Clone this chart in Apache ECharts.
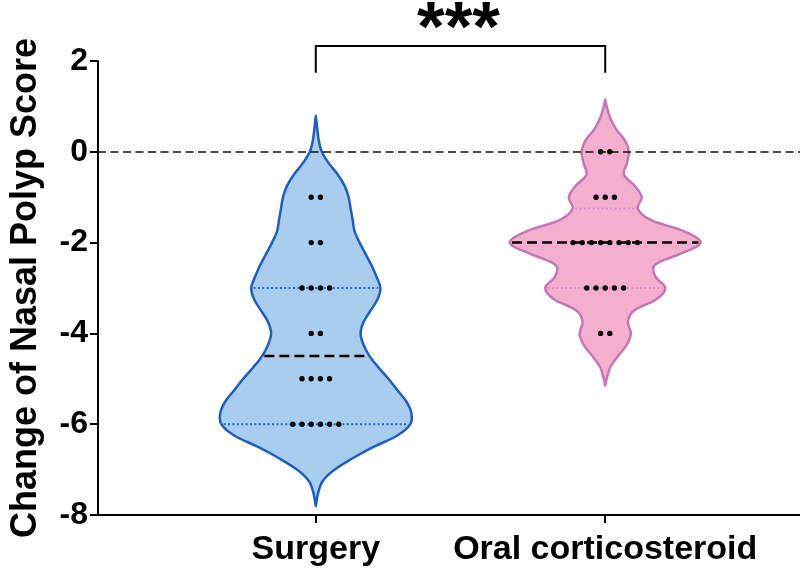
<!DOCTYPE html>
<html><head><meta charset="utf-8">
<script src="https://cdn.jsdelivr.net/npm/echarts@6/dist/echarts.min.js"></script>
<style>html,body{margin:0;padding:0;background:#fff}#c{width:800px;height:572px}</style>
</head><body><div id="c"></div>
<script>
// ---------- data ----------
const categories = ['Surgery', 'Oral corticosteroid'];
const yTicks = [-8, -6, -4, -2, 0, 2];
const yAxisTitle = 'Change of Nasal Polyp Score';
const significance = '***';

// individual patient scores (dots)
const surgeryScores = [-1,-1,-2,-2,-3,-3,-3,-3,-4,-4,-5,-5,-5,-5,-6,-6,-6,-6,-6,-6];
const oralScores    = [0,0,-1,-1,-1,-2,-2,-2,-2,-2,-2,-2,-2,-3,-3,-3,-3,-3,-4,-4];

// violin outline: score level and relative density
const surgeryViolinY = [0.79,0.5,0.25,0,-0.25,-0.5,-0.75,-1,-1.25,-1.5,-1.75,-2,-2.25,-2.5,-2.75,-3,-3.25,-3.5,-3.75,-4,-4.25,-4.5,-4.75,-5,-5.25,-5.5,-5.75,-6,-6.25,-6.5,-6.75,-7,-7.25,-7.5,-7.8];
const surgeryViolinD = [0,1.5,3,6,13,22,29,33,35,37,39,44,50,56,61,65,62,55,48,45,48,54,63,73,82,91,96,95,82,58,37,19,7,2.5,0];
const oralViolinY = [1.15,1.0,0.75,0.5,0.25,0,-0.25,-0.5,-0.75,-1,-1.25,-1.5,-1.75,-2,-2.25,-2.5,-2.75,-3,-3.25,-3.5,-3.75,-4,-4.25,-4.5,-4.75,-5,-5.15];
const oralViolinD = [0,1.5,5,11,20,24,22,19,30,37,33,46,80,97,76,50,51,61,52,29,23,26,22,13,5,1.5,0];

// ---------- presentation ----------
const FONT = "'Liberation Sans', Arial, Helvetica, sans-serif";
const HALF = 0.33;      // max violin half-width in x-axis units
const DOT_GAP = 9.2;    // px between dots
const groups = [
  {x: 1, scores: surgeryScores, vy: surgeryViolinY, vd: surgeryViolinD,
   fill: '#a9cdee', stroke: '#1f5fb8', quart: '#2b63c4'},
  {x: 2, scores: oralScores, vy: oralViolinY, vd: oralViolinD,
   fill: '#f3afcd', stroke: '#c378b5', quart: '#d690c8'}
];

function pct(vals, p) {
  const s = vals.slice().sort((a, b) => a - b);
  const r = (s.length + 1) * p;
  const lo = Math.floor(r), hi = Math.ceil(r);
  const a = s[Math.max(0, lo - 1)], b = s[Math.min(s.length - 1, hi - 1)];
  return a + (b - a) * (r - lo);
}
function widthAt(g, y) {
  const m = Math.max(...g.vd);
  for (let k = 0; k < g.vy.length - 1; k++) {
    const y0 = g.vy[k], y1 = g.vy[k + 1];
    if (y <= y0 && y >= y1) {
      const t = (y0 - y) / (y0 - y1);
      return (g.vd[k] + (g.vd[k + 1] - g.vd[k]) * t) / m * HALF;
    }
  }
  return 0;
}
groups.forEach(g => {
  g.q1 = pct(g.scores, 0.25); g.med = pct(g.scores, 0.5); g.q3 = pct(g.scores, 0.75);
});

// dots data
const dotData = [];
groups.forEach(g => {
  const counts = {};
  g.scores.forEach(v => counts[v] = (counts[v] || 0) + 1);
  Object.keys(counts).forEach(k => {
    const n = counts[k];
    for (let i = 0; i < n; i++) dotData.push([g.x, Number(k), i - (n - 1) / 2]);
  });
});

const chart = echarts.init(document.getElementById('c'), null, {renderer: 'canvas'});
chart.setOption({
  animation: false,
  backgroundColor: '#fff',
  grid: {left: 94, right: 0, top: 61, bottom: 57},
  xAxis: {
    type: 'value', min: 0.2474, max: 2.673,
    axisLine: {show: true, onZero: false, lineStyle: {color: '#000', width: 2}},
    axisTick: {show: true, customValues: [1, 2], length: 8, lineStyle: {color: '#000', width: 2}},
    axisLabel: {show: true, customValues: [1, 2], margin: 18,
      formatter: v => categories[Math.round(v) - 1],
      color: '#000', fontFamily: FONT, fontWeight: 'bold', fontSize: 34},
    splitLine: {show: false}
  },
  yAxis: {
    type: 'value', min: yTicks[0], max: yTicks[yTicks.length - 1], interval: 2,
    name: yAxisTitle, nameLocation: 'middle', nameGap: 54, nameRotate: 90,
    nameTextStyle: {color: '#000', fontFamily: FONT, fontWeight: 'bold', fontSize: 36},
    axisLine: {show: true, lineStyle: {color: '#000', width: 2}},
    axisTick: {show: true, length: 8, lineStyle: {color: '#000', width: 2}},
    axisLabel: {color: '#000', fontFamily: FONT, fontWeight: 'bold', fontSize: 32, margin: 10},
    splitLine: {show: false}
  },
  series: [
    { // zero reference line
      type: 'line', data: [], z: 1,
      markLine: {silent: true, symbol: 'none', label: {show: false},
        lineStyle: {color: '#111', width: 1.5, type: [8, 4.5]},
        data: [{yAxis: 0}]}
    },
    { // violins
      type: 'custom', z: 2, clip: false,
      data: groups.map((g, i) => [g.x, i]),
      renderItem: (params, api) => {
        const g = groups[api.value(1)];
        const m = Math.max(...g.vd);
        const right = [], left = [];
        g.vy.forEach((y, k) => {
          const w = g.vd[k] / m * HALF;
          right.push(api.coord([g.x + w, y]));
          left.push(api.coord([g.x - w, y]));
        });
        const pts = right.concat(left.reverse());
        const children = [{type: 'polygon', shape: {points: pts, smooth: 0.35},
          style: {fill: g.fill, stroke: g.stroke, lineWidth: 2.5, lineJoin: 'round'}}];
        [g.q1, g.q3].forEach(q => {
          const w = widthAt(g, q) - 0.008;
          const a = api.coord([g.x - w, q]), b = api.coord([g.x + w, q]);
          children.push({type: 'line', shape: {x1: a[0], y1: a[1], x2: b[0], y2: b[1]},
            style: {stroke: g.quart, lineWidth: 2, lineDash: [2, 2.4]}});
        });
        const wm = widthAt(g, g.med) - 0.008;
        const a = api.coord([g.x - wm, g.med]), b = api.coord([g.x + wm, g.med]);
        children.push({type: 'line', shape: {x1: a[0], y1: a[1], x2: b[0], y2: b[1]},
          style: {stroke: '#000', lineWidth: 2.5, lineDash: [10, 5]}});
        return {type: 'group', children};
      }
    },
    { // dots
      type: 'custom', z: 3,
      data: dotData,
      renderItem: (params, api) => {
        const c = api.coord([api.value(0), api.value(1)]);
        return {type: 'circle', shape: {cx: c[0] + api.value(2) * DOT_GAP, cy: c[1], r: 2.7},
          style: {fill: '#000'}};
      }
    },
    { // significance bracket
      type: 'custom', z: 4, clip: false,
      data: [[1, 2, 2.33, 1.74]],
      renderItem: (params, api) => {
        const x1 = api.value(0), x2 = api.value(1), top = api.value(2), bot = api.value(3);
        const p1 = api.coord([x1, bot]), p2 = api.coord([x1, top]), p3 = api.coord([x2, top]), p4 = api.coord([x2, bot]);
        return {type: 'group', children: [
          {type: 'polyline', shape: {points: [p1, p2, p3, p4]}, style: {stroke: '#000', lineWidth: 2, fill: null}},
          {type: 'text', x: (p2[0] + p3[0]) / 2 - 2, y: p2[1] - 15,
           style: {text: significance, fill: '#000', font: `bold 71px ${FONT}`, align: 'center', verticalAlign: 'middle'}}
        ]};
      }
    }
  ]
});
</script>
</body></html>
